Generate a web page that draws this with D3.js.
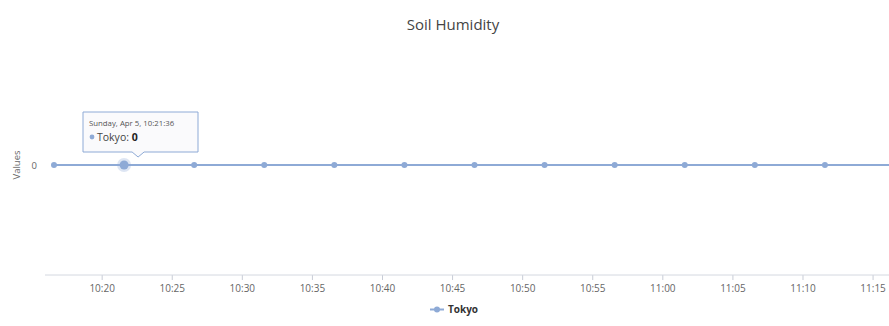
<!DOCTYPE html>
<html>
<head>
<meta charset="utf-8">
<script src="https://cdn.jsdelivr.net/npm/d3@7/dist/d3.min.js"></script>
<style>
  html, body { margin: 0; padding: 0; background: #fff; }
  svg { display: block; font-family: "Open Sans", "DejaVu Sans", sans-serif; }
</style>
</head>
<body>
<svg id="chart" width="889" height="326"></svg>
<script>
// Soil humidity readings (sensor "Tokyo"), one every five minutes
const seriesName = "Tokyo";
const times = ["10:16:36", "10:21:36", "10:26:36", "10:31:36", "10:36:36", "10:41:36",
               "10:46:36", "10:51:36", "10:56:36", "11:01:36", "11:06:36", "11:11:36", "11:16:36"];
const values = [0, 0, 0, 0, 0, 0, 0, 0, 0, 0, 0, 0, 0];
const yTicks = [0];
const xTickTimes = ["10:20", "10:25", "10:30", "10:35", "10:40", "10:45",
                    "10:50", "10:55", "11:00", "11:05", "11:10", "11:15"];
const chartTitle = "Soil Humidity";
const yTitle = "Values";
const day = "2020-04-05";
const hoverIndex = 1;

const parse = d3.timeParse("%Y-%m-%d %H:%M:%S");
const parseTick = d3.timeParse("%Y-%m-%d %H:%M");
const data = times.map((t, i) => ({ t: parse(day + " " + t), v: values[i] }));

const svg = d3.select("#chart");
const plot = { left: 45, right: 889, top: 55, bottom: 275 };
const color = "#8eaad6";

const x = d3.scaleTime()
  .domain(d3.extent(data, d => d.t))
  .range([54, 895]);
const y = d3.scaleLinear().domain([-1, 1]).range([plot.bottom, plot.top]);

// title
svg.append("text")
  .attr("x", 453).attr("y", 30)
  .attr("text-anchor", "middle")
  .attr("font-size", 15)
  .attr("fill", "#444")
  .text(chartTitle);

// y-axis title
svg.append("text")
  .attr("transform", `translate(20,${y(0)}) rotate(-90)`)
  .attr("text-anchor", "middle")
  .attr("font-size", 9.5)
  .attr("fill", "#666")
  .text(yTitle);

// y tick labels
svg.selectAll(".ytick").data(yTicks).enter().append("text")
  .attr("x", 37).attr("y", d => y(d) + 3.5)
  .attr("text-anchor", "end")
  .attr("font-size", 9.5)
  .attr("fill", "#666")
  .text(d => d);

// x axis
const xAxis = d3.axisBottom(x)
  .tickValues(xTickTimes.map(t => parseTick(day + " " + t)))
  .tickFormat(d3.timeFormat("%H:%M"))
  .tickSize(5)
  .tickSizeOuter(0);
const gx = svg.append("g").attr("transform", `translate(0,${plot.bottom})`).call(xAxis);
gx.select(".domain").remove();
gx.append("line")
  .attr("x1", plot.left).attr("x2", plot.right)
  .attr("stroke", "#d4d8e0").attr("stroke-width", 1);
gx.selectAll(".tick line").attr("stroke", "#c8ccd6");
gx.selectAll(".tick text")
  .attr("y", 10)
  .attr("font-size", 10)
  .attr("font-family", "\"Open Sans\", sans-serif")
  .attr("fill", "#666");

// series line
const line = d3.line().x(d => x(d.t)).y(d => y(d.v));
svg.append("path")
  .datum(data)
  .attr("d", line)
  .attr("fill", "none")
  .attr("stroke", color)
  .attr("stroke-width", 2);

// hover halo on the highlighted point
const hp = data[hoverIndex];
svg.append("circle")
  .attr("cx", x(hp.t)).attr("cy", y(hp.v)).attr("r", 7)
  .attr("fill", color).attr("opacity", 0.3);

// markers
svg.selectAll(".pt").data(data).enter().append("circle")
  .attr("cx", d => x(d.t)).attr("cy", d => y(d.v))
  .attr("r", (d, i) => i === hoverIndex ? 4.5 : 3)
  .attr("fill", color);

// tooltip
const tipFmt = d3.timeFormat("%A, %b %-d, %H:%M:%S");
const tx = x(hp.t);
const tw = 115, th = 40;
const boxL = 83, boxT = 112, boxB = boxT + th, px = tx + 14;
const tip = svg.append("g");
tip.append("path")
  .attr("d", `M${boxL},${boxT} H${boxL + tw} V${boxB} H${px + 6} L${px},${boxB + 5} L${px - 6},${boxB} H${boxL} Z`)
  .attr("fill", "rgba(250,250,252,0.92)")
  .attr("stroke", color)
  .attr("stroke-width", 1);
tip.append("text")
  .attr("x", boxL + 6).attr("y", boxT + 14)
  .attr("font-size", 7.8).attr("fill", "#555")
  .text(tipFmt(hp.t));
tip.append("circle")
  .attr("cx", boxL + 9).attr("cy", boxT + 25).attr("r", 2.4)
  .attr("fill", color);
const t2 = tip.append("text")
  .attr("x", boxL + 14).attr("y", boxT + 28.5)
  .attr("font-size", 10.5).attr("fill", "#444");
t2.append("tspan").text(seriesName + ": ");
t2.append("tspan").attr("font-weight", "bold").attr("fill", "#222").text(hp.v);

// legend
const lg = svg.append("g").attr("transform", "translate(430,313)");
lg.append("line").attr("x1", 0).attr("x2", 14).attr("y1", -3.5).attr("y2", -3.5)
  .attr("stroke", color).attr("stroke-width", 2);
lg.append("circle").attr("cx", 7).attr("cy", -3.5).attr("r", 3).attr("fill", color);
lg.append("text").attr("x", 18).attr("y", 0)
  .attr("font-size", 10).attr("font-weight", "bold").attr("fill", "#333")
  .text(seriesName);
</script>
</body>
</html>
